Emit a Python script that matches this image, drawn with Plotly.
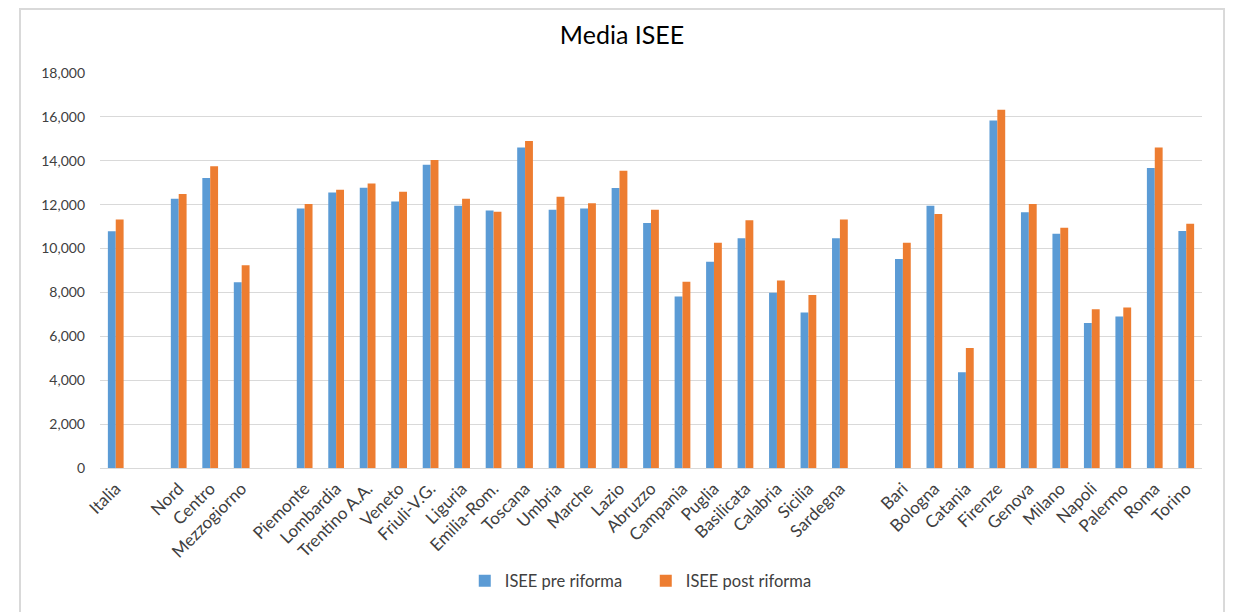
import plotly.graph_objects as go

categories = ["Italia", " ", "Nord", "Centro", "Mezzogiorno", "  ",
              "Piemonte", "Lombardia", "Trentino A.A.", "Veneto", "Friuli-V.G.",
              "Liguria", "Emilia-Rom.", "Toscana", "Umbria", "Marche", "Lazio",
              "Abruzzo", "Campania", "Puglia", "Basilicata", "Calabria", "Sicilia",
              "Sardegna", "   ",
              "Bari", "Bologna", "Catania", "Firenze", "Genova", "Milano",
              "Napoli", "Palermo", "Roma", "Torino"]

isee_pre = [10790, None, 12270, 13210, 8460, None,
            11820, 12560, 12770, 12150, 13820,
            11950, 11730, 14600, 11770, 11820, 12760,
            11160, 7810, 9400, 10470, 7990, 7090,
            10470, None,
            9520, 11950, 4360, 15830, 11650, 10680,
            6610, 6900, 13670, 10800]

isee_post = [11320, None, 12490, 13750, 9240, None,
             12030, 12680, 12970, 12590, 14030,
             12270, 11680, 14900, 12360, 12060, 13550,
             11770, 8490, 10270, 11290, 8540, 7880,
             11320, None,
             10270, 11580, 5470, 16330, 12030, 10950,
             7230, 7310, 14600, 11130]

series_names = ["ISEE pre riforma", "ISEE post riforma"]
colors = ["#5B9BD5", "#ED7D31"]
y_ticks = list(range(0, 18001, 2000))

fig = go.Figure()
for name, vals, col in zip(series_names, [isee_pre, isee_post], colors):
    fig.add_trace(go.Bar(x=categories, y=vals, name=name, marker_color=col,
                         marker_line_width=0))

font_family = "Lato, 'Open Sans', sans-serif"
fig.update_layout(
    width=1225, height=604,
    paper_bgcolor="white", plot_bgcolor="white",
    margin=dict(l=92, r=31, t=65, b=144),
    barmode="group", bargap=0.5, bargroupgap=0,
    font=dict(family=font_family, color="#404040", size=14),
    title=dict(text="Media ISEE", x=0.4737, xref="paper", xanchor="center",
               y=1 - 27 / 604, yref="container", yanchor="middle",
               font=dict(size=25, color="#000000", family=font_family)),
    xaxis=dict(type="category", tickangle=-45, showgrid=False,
               showline=True, linecolor="#d9d9d9", linewidth=1,
               ticks="", ticklabelstandoff=3,
               tickfont=dict(size=17, color="#404040")),
    yaxis=dict(range=[0, 18000], tickvals=y_ticks, tickformat=",",
               showgrid=True, gridcolor="#d9d9d9", gridwidth=1,
               zeroline=False, ticks="", ticklabelstandoff=14,
               tickfont=dict(size=14, color="#404040")),
    legend=dict(orientation="h", x=0.331, xanchor="left", y=-0.286,
                yanchor="middle", font=dict(size=16.5, color="#404040"),
                itemwidth=30, entrywidth=136, entrywidthmode="pixels",
                traceorder="normal"),
    showlegend=True,
)

fig.add_shape(type="rect", xref="paper", yref="paper",
              x0=-0.0726, x1=1.02, y0=-0.38, y1=1.162,
              line=dict(color="#d9d9d9", width=2), fillcolor="rgba(0,0,0,0)",
              layer="below")

fig.write_html("out.html")
